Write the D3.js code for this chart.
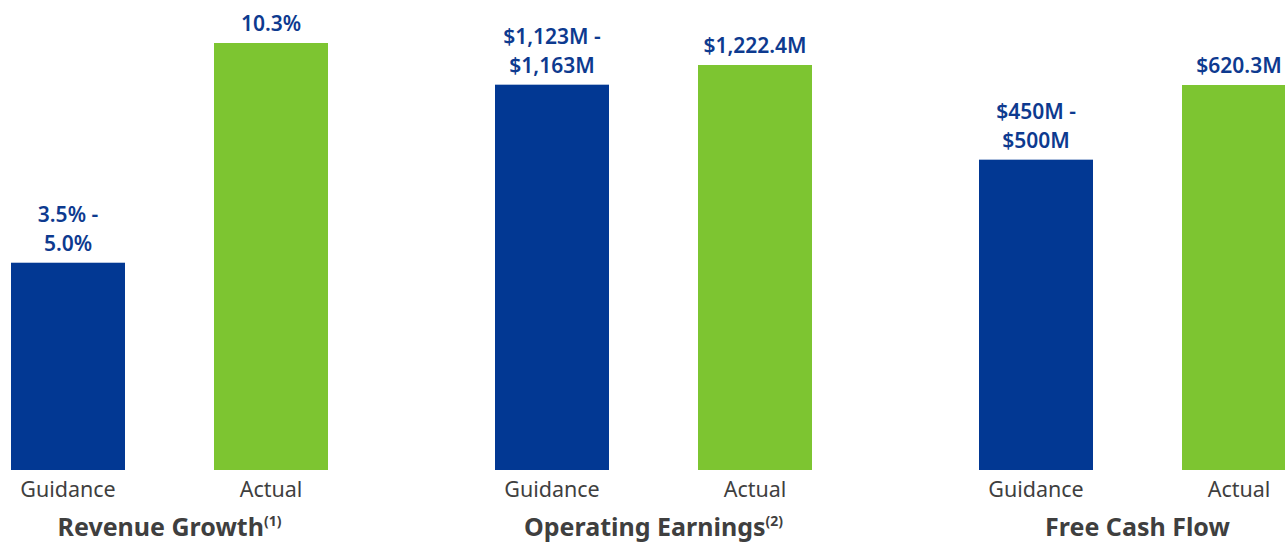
<!DOCTYPE html>
<html lang="en">
  <head>
    <meta charset="UTF-8" />
    <title>Guidance vs Actual</title>
    <script src="https://d3js.org/d3.v7.min.js"></script>
    <style>
      body { margin: 0; background: #fff; }
      svg { display: block; font-family: "Noto Sans", sans-serif; }
    </style>
  </head>
  <body>
    <svg class="chart"></svg>
    <script>
      // data
      let groups = ["Revenue Growth", "Operating Earnings", "Free Cash Flow"];
      let notes = ["(1)", "(2)", ""];
      let series = ["Guidance", "Actual"];
      let guidanceValues = [5.0, 1163, 500];
      let actualValues = [10.3, 1222.4, 620.3];
      let guidanceLabels = [["3.5% -", "5.0%"], ["$1,123M -", "$1,163M"], ["$450M -", "$500M"]];
      let actualLabels = [["10.3%"], ["$1,222.4M"], ["$620.3M"]];

      let width = 1285, height = 542;
      let baseY = 470;
      let groupStep = 484, groupLeft = 11, groupInner = 317;
      // each panel is drawn on its own scale (actual bar height in px)
      let panelTop = [427, 405, 385];

      let svg = d3.select(".chart").attr("width", width).attr("height", height);

      let x0 = d3.scaleBand().domain(groups)
        .range([groupLeft, groupLeft + groupStep * groups.length]).paddingInner(0).paddingOuter(0);
      let x1 = d3.scaleBand().domain(series).range([0, groupInner]).paddingInner(89 / 203).paddingOuter(0);
      let color = d3.scaleOrdinal().domain(series).range(["#023893", "#7dc531"]);

      groups.forEach(function(g, i) {
        let y = d3.scaleLinear().domain([0, actualValues[i]]).range([baseY, baseY - panelTop[i]]);
        let gx = x0(g);
        let grp = svg.append("g").attr("transform", "translate(" + gx + ",0)");

        let rows = [
          { s: "Guidance", v: guidanceValues[i], lab: guidanceLabels[i] },
          { s: "Actual", v: actualValues[i], lab: actualLabels[i] }
        ];

        grp.selectAll("rect").data(rows).enter().append("rect")
          .attr("x", d => x1(d.s))
          .attr("y", d => y(d.v))
          .attr("width", x1.bandwidth())
          .attr("height", d => baseY - y(d.v))
          .attr("fill", d => color(d.s));

        rows.forEach(function(d) {
          let cx = x1(d.s) + x1.bandwidth() / 2;
          let t = grp.append("text")
            .attr("x", cx)
            .attr("text-anchor", "middle")
            .attr("fill", "#0d3a8f")
            .attr("font-size", 21)
            .attr("font-weight", 600);
          let n = d.lab.length;
          d.lab.forEach(function(line, k) {
            t.append("tspan")
              .attr("x", cx)
              .attr("y", y(d.v) - 12 - (n - 1 - k) * 29)
              .text(line);
          });

          grp.append("text")
            .attr("x", cx)
            .attr("y", baseY + 27)
            .attr("text-anchor", "middle")
            .attr("fill", "#3f3f3f")
            .attr("font-size", 21.5)
            .text(d.s);
        });

        let title = grp.append("text")
          .attr("x", groupInner / 2)
          .attr("y", 536)
          .attr("text-anchor", "middle")
          .attr("fill", "#3f3f3f")
          .attr("font-size", 25)
          .attr("font-weight", 700);
        title.append("tspan").text(g);
        if (notes[i]) {
          title.append("tspan")
            .attr("font-size", 14)
            .attr("dy", -10)
            .text(notes[i]);
        }
      });
    </script>
  </body>
</html>
